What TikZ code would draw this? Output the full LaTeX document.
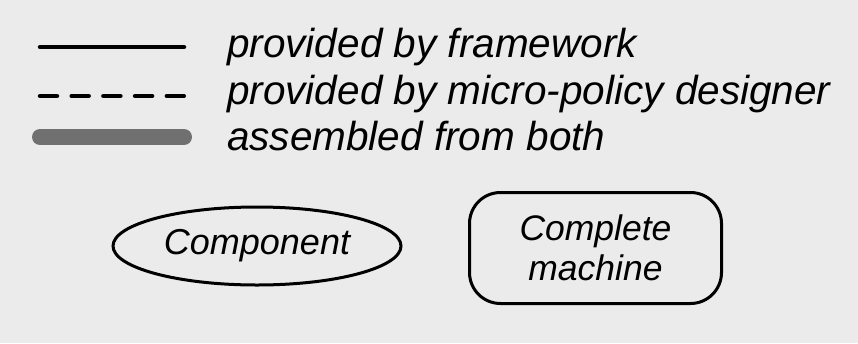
\documentclass[tikz,border=0pt]{standalone}
\usepackage{fontspec}
\setmainfont{Liberation Sans}
\usetikzlibrary{shapes.geometric}
\definecolor{panelbg}{HTML}{EBEBEB}
\definecolor{bothgray}{HTML}{707070}
\tikzset{
  legtext/.style={anchor=base west, inner sep=0pt, font=\fontsize{40.5}{47}\selectfont\itshape},
  fwline/.style={line width=4.5pt, line cap=round},
  mpline/.style={line width=4.5pt, dash pattern=on 17pt off 14.7pt, line cap=round},
  bothline/.style={line width=16pt, line cap=round, draw=bothgray},
  compnode/.style={ellipse, draw, line width=3pt, minimum width=288pt, minimum height=78pt,
    inner sep=0pt, font=\fontsize{36}{41}\selectfont\itshape},
  machnode/.style={rectangle, rounded corners=31pt, draw, line width=3pt, minimum width=252pt,
    minimum height=111pt, inner sep=0pt, align=center, font=\fontsize{35.5}{41}\selectfont\itshape}
}
\begin{document}
\begin{tikzpicture}[x=1pt, y=-1pt]
  % panel background
  \fill[panelbg] (0,0) rectangle (858,343);
  \useasboundingbox (0,0) rectangle (858,343);

  % legend samples
  \coordinate (fwA) at (40,47);   \coordinate (fwB) at (184,47);
  \coordinate (mpA) at (40,96);   \coordinate (mpB) at (186,96);
  \coordinate (bA)  at (40,137);  \coordinate (bB)  at (184,137);
  \draw[fwline] (fwA) -- (fwB);
  \draw[mpline] (mpA) -- (mpB);
  \draw[bothline] (bA) -- (bB);

  % legend texts
  \node[legtext] (fwtext) at (227,57)  {provided by framework};
  \node[legtext] (mptext) at (227,104) {provided by micro-policy designer};
  \node[legtext] (btext)  at (227,150) {assembled from both};

  % shape key
  \node[compnode] (comp) at (257,246) {Component};
  \node[machnode] (mach) at (595.5,248) {Complete\\[-1pt]machine};
\end{tikzpicture}
\end{document}
